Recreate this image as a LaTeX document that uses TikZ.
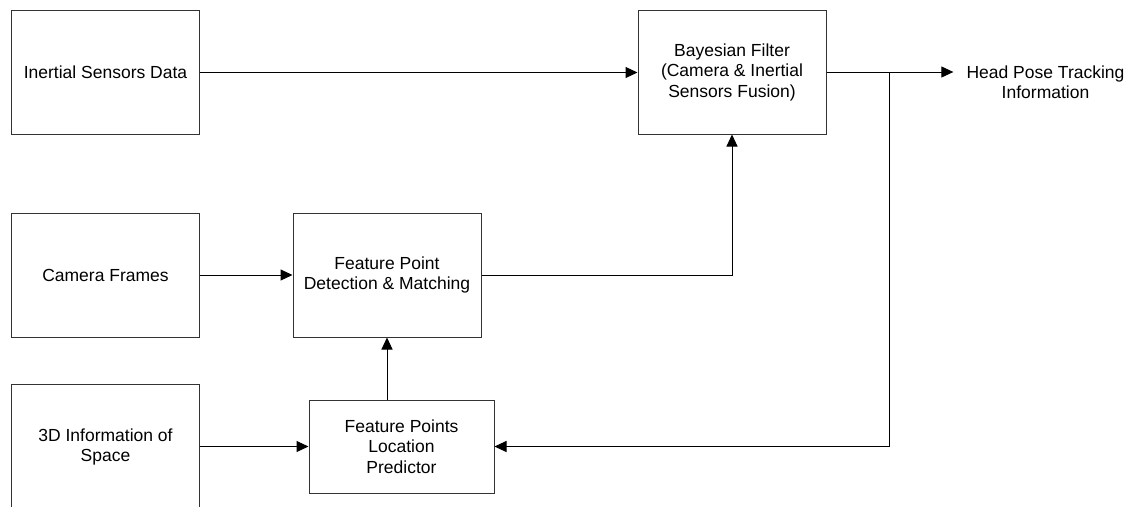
\documentclass[tikz,border=0pt]{standalone}
\usepackage{fontspec}
\setmainfont{Liberation Sans}
\usepackage{tikz}
\usetikzlibrary{positioning,arrows.meta}

\begin{document}
\begin{tikzpicture}[x=1pt,y=-1pt,
                    block/.style={draw=black!80, line width=1pt, align=center,
                                  minimum width=188pt, minimum height=124pt,
                                  font=\fontsize{17.5}{20.5}\selectfont},
                    flow/.style={line width=1pt, -{Triangle[length=12pt,width=11pt]}}]
                \clip (0,0) rectangle (1135,506);
                \node[block] (inertial) at (105.5,72.5) {Inertial Sensors Data};
                \node[block] (camera) at (105.5,275) {Camera Frames};
                \node[block, minimum height=126pt] (space) at (105.5,447) {3D Information of\\Space};
                \node[block] (detect) at (387,275) {Feature Point\\Detection \& Matching};
                \node[block, minimum width=185pt, minimum height=93pt] (predict) at (401.5,446.5) {Feature Points\\Location\\Predictor};
                \node[block] (bayes) at (732,72) {Bayesian Filter\\(Camera \& Inertial\\Sensors Fusion)};
                \node[align=center, inner xsep=13pt, inner ysep=0pt,
                      font=\fontsize{17.5}{20.5}\selectfont] (pose) at (1045.5,82) {Head Pose Tracking\\Information};
                \coordinate (branch) at (889,72);
                \draw[flow] (inertial.east) -- (inertial.east -| bayes.west);
                \draw[flow] (camera.east) -- (detect.west);
                \draw[flow] (space.east |- predict.west) -- (predict.west);
                \draw[flow] (predict.north -| detect.south) -- (detect.south);
                \draw[flow] (detect.east) -| (bayes.south);
                \draw[flow] (bayes.east) -- (bayes.east -| pose.west);
                \draw[flow] (branch) |- (predict.east);
            \end{tikzpicture}
\end{document}
